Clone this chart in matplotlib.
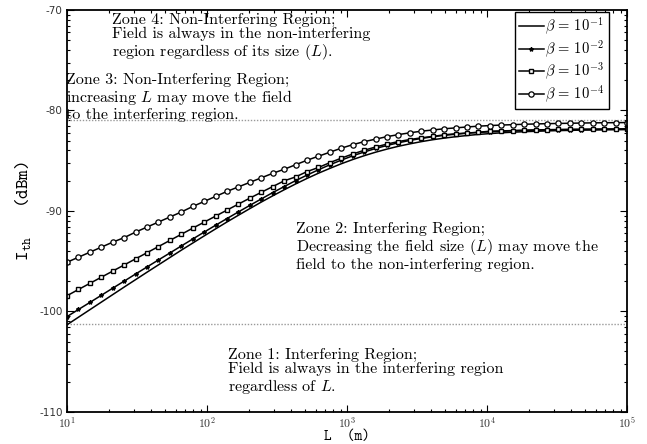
import matplotlib
matplotlib.use("Agg")
import matplotlib.pyplot as plt
import numpy as np
from matplotlib.ticker import FixedLocator, FixedFormatter, NullFormatter

plt.rcParams["mathtext.fontset"] = "cm"

# field size L (m), 50 log-spaced samples from 10 m to 100 km
L = np.logspace(1, 5, 50)

# I_th (dBm), one list per beta
ith_b1 = [-101.32, -100.57, -99.82, -99.07, -98.32, -97.57, -96.83, -96.09, -95.36, -94.63,
          -93.90, -93.19, -92.48, -91.78, -91.09, -90.42, -89.76, -89.11, -88.49, -87.89,
          -87.31, -86.76, -86.24, -85.76, -85.30, -84.88, -84.50, -84.15, -83.84, -83.56,
          -83.32, -83.10, -82.91, -82.75, -82.61, -82.49, -82.38, -82.30, -82.22, -82.16,
          -82.11, -82.07, -82.03, -82.00, -81.98, -81.95, -81.94, -81.92, -81.91, -81.90]
ith_b2 = [-100.51, -99.80, -99.10, -98.39, -97.68, -96.98, -96.27, -95.57, -94.87, -94.18,
          -93.48, -92.79, -92.10, -91.42, -90.75, -90.09, -89.44, -88.80, -88.17, -87.57,
          -86.98, -86.43, -85.90, -85.40, -84.94, -84.51, -84.13, -83.78, -83.48, -83.21,
          -82.98, -82.78, -82.61, -82.47, -82.36, -82.26, -82.18, -82.12, -82.07, -82.02,
          -81.99, -81.96, -81.94, -81.92, -81.91, -81.90, -81.89, -81.88, -81.87, -81.87]
ith_b3 = [-98.43, -97.81, -97.20, -96.59, -95.98, -95.37, -94.76, -94.15, -93.54, -92.93,
          -92.32, -91.71, -91.11, -90.51, -89.91, -89.31, -88.72, -88.14, -87.57, -87.00,
          -86.61, -86.08, -85.67, -85.19, -84.74, -84.33, -83.96, -83.63, -83.34, -83.09,
          -82.89, -82.72, -82.58, -82.42, -82.32, -82.24, -82.17, -82.06, -82.03, -82.00,
          -81.96, -81.93, -81.91, -81.89, -81.87, -81.86, -81.85, -81.84, -81.83, -81.82]
ith_b4 = [-95.10, -94.60, -94.10, -93.60, -93.10, -92.65, -92.10, -91.60, -91.10, -90.60,
          -90.10, -89.55, -89.05, -88.55, -88.05, -87.60, -87.15, -86.70, -86.25, -85.85,
          -85.40, -84.95, -84.55, -84.15, -83.75, -83.40, -83.10, -82.85, -82.60, -82.40,
          -82.22, -82.06, -81.94, -81.82, -81.73, -81.64, -81.56, -81.50, -81.45, -81.41,
          -81.37, -81.34, -81.31, -81.29, -81.27, -81.25, -81.23, -81.22, -81.21, -81.20]

labels = [r"$\beta\,=\,10^{-1}$", r"$\beta\,=\,10^{-2}$",
          r"$\beta\,=\,10^{-3}$", r"$\beta\,=\,10^{-4}$"]

# zone boundaries (dBm)
upper_bound = -80.9
lower_bound = -101.25

yticks = [-110, -100, -90, -80, -70]
xticks = [1e1, 1e2, 1e3, 1e4, 1e5]
xtick_labels = [r"$\mathsf{10^{1}}$", r"$\mathsf{10^{2}}$", r"$\mathsf{10^{3}}$",
                r"$\mathsf{10^{4}}$", r"$\mathsf{10^{5}}$"]

fig = plt.figure(figsize=(6.47, 4.44), dpi=100)
ax = fig.add_axes([0.1036, 0.0721, 0.8655, 0.9054])

ax.axhline(upper_bound, color="#999999", ls=(0, (1, 1.2)), lw=1.0)
ax.axhline(lower_bound, color="#999999", ls=(0, (1, 1.2)), lw=1.0)

ax.plot(L, ith_b1, color="black", lw=1.1, label=labels[0])
ax.plot(L, ith_b2, color="black", lw=1.1, marker="*", ms=3, label=labels[1])
ax.plot(L, ith_b3, color="black", lw=1.1, marker="s", ms=3.5, mfc="white",
        mew=1.0, label=labels[2])
ax.plot(L, ith_b4, color="black", lw=1.1, marker="o", ms=3.8, mfc="white",
        mew=0.9, label=labels[3])

ax.set_xscale("log")
ax.set_xlim(10, 1e5)
ax.set_ylim(-110, -70)

ax.xaxis.set_major_locator(FixedLocator(xticks))
ax.xaxis.set_major_formatter(FixedFormatter(xtick_labels))
ax.xaxis.set_minor_formatter(NullFormatter())
ax.yaxis.set_major_locator(FixedLocator(yticks))
ax.yaxis.set_major_formatter(FixedFormatter([str(v) for v in yticks]))
# matlab-style log spaced minor ticks inside every 10 dB step
ym = [b + 10 * np.log10(k) for b in yticks[:-1] for k in range(2, 10)]
ax.yaxis.set_minor_locator(FixedLocator(ym))

ax.tick_params(which="both", direction="in", top=True, right=True, width=0.8)
ax.tick_params(which="major", length=5)
ax.tick_params(which="minor", length=2.5)
ax.tick_params(axis="y", labelsize=7.5, labelcolor="#333333", pad=3)
ax.tick_params(axis="x", labelsize=8.5, labelcolor="#333333", pad=3)
for lbl in ax.get_yticklabels():
    lbl.set_fontfamily("DejaVu Sans")
for sp in ax.spines.values():
    sp.set_linewidth(1.3)

ax.set_xlabel("L  (m)", fontfamily="cmtt10", fontsize=10.5, labelpad=-1)
ax.set_ylabel(r"$\mathtt{I_{th}}$   (dBm)", fontfamily="cmtt10", fontsize=13, labelpad=4)

txt = dict(fontfamily="cmr10", fontsize=11.5, va="top", ha="left", linespacing=1.05)
ax.text(20.9, -70.25, "Zone 4: Non-Interfering Region;\n"
        "Field is always in the non-interfering\n"
        "region regardless of its size ($L$).", **txt)
ax.text(9.9, -76.3, "Zone 3: Non-Interfering Region;\n"
        "increasing $L$ may move the field\n"
        "to the interfering region.", **txt)
ax.text(432, -91.1, "Zone 2: Interfering Region;\n"
        "Decreasing the field size ($L$) may move the\n"
        "field to the non-interfering region.", **txt)
ax.text(141, -103.6, "Zone 1: Interfering Region;\n"
        "Field is always in the interfering region\n"
        "regardless of $L$.", **txt)

leg = ax.legend(loc="upper right", bbox_to_anchor=(0.967, 0.996), borderaxespad=0,
                fontsize=10.5, handlelength=1.7, handletextpad=0.1, labelspacing=0.08,
                borderpad=0.3, fancybox=False, framealpha=1, edgecolor="black")
leg.get_frame().set_linewidth(1.0)

fig.savefig("out.png", dpi=100)
